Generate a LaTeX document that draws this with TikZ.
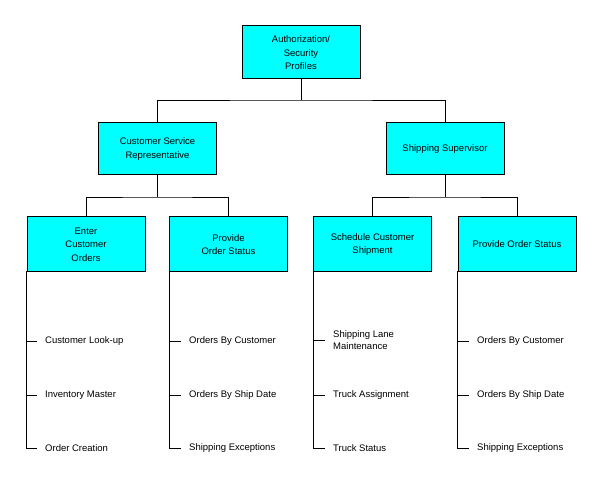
\documentclass[tikz,border=0pt]{standalone}
\usepackage{fontspec}
\setmainfont{Liberation Sans}
\definecolor{boxfill}{RGB}{0,255,255}
% move a label down without changing its reported size
\newcommand{\lowerlabel}[2]{\raisebox{-#1}[\height][\depth]{#2}}
\begin{document}
\begin{tikzpicture}[x=1pt,y=-1pt,
  role/.style={draw=black,fill=boxfill,line width=0.9pt,minimum width=118pt,minimum height=53pt,
    inner sep=0pt,align=center,font=\fontsize{9.5}{13.5}\selectfont},
  task/.style={draw=black,fill=boxfill,line width=0.9pt,minimum width=118pt,minimum height=55pt,
    inner sep=0pt,align=center,font=\fontsize{9.5}{13.5}\selectfont},
  item/.style={anchor=west,inner sep=0pt,align=left,font=\fontsize{9.5}{12}\selectfont},
  wire/.style={draw=black,line width=0.9pt}]
\useasboundingbox (0,0) rectangle (603,502);
\fill[white] (0,0) rectangle (603,502);

% top level
\node[role] (auth) at (301,51.5) {\lowerlabel{1.5pt}{\parbox{110pt}{\centering Authorization/\\Security\\Profiles}}};

% second level
\node[role,minimum height=52pt] (csr) at (157.5,148) {\lowerlabel{1pt}{\parbox{110pt}{\centering Customer Service\\Representative}}};
\node[role,minimum height=52pt] (ship) at (445,148) {\lowerlabel{1pt}{Shipping Supervisor}};

% third level
\node[task] (enter) at (86,243.5) {\lowerlabel{1pt}{\parbox{110pt}{\centering Enter\\Customer\\Orders}}};
\node[task] (prov1) at (228.5,243.5) {\lowerlabel{1pt}{\parbox{110pt}{\centering Provide\\Order Status}}};
\node[task] (sched) at (372.5,243.5) {\lowerlabel{1pt}{\parbox{110pt}{\centering Schedule Customer\\Shipment}}};
\node[task] (prov2) at (517,243.5) {\lowerlabel{1pt}{Provide Order Status}};

% junctions
\coordinate (j1) at (301,100);
\coordinate (j2) at (157.5,197);
\coordinate (j3) at (445,197);

\draw[wire] (auth.south) -- (j1);
\draw[wire] (csr.north) |- (j1) -| (ship.north);
\draw[wire] (csr.south) -- (j2);
\draw[wire] (enter.north) |- (j2) -| (prov1.north);
\draw[wire] (ship.south) -- (j3);
\draw[wire] (sched.north) |- (j3) -| (prov2.north);

% leaf items
\node[item] (e1) at (45,341.5) {Customer Look-up};
\node[item] (e2) at (45,395.5) {Inventory Master};
\node[item] (e3) at (45,448.5) {Order Creation};

\node[item] (p1) at (189,341.5) {Orders By Customer};
\node[item] (p2) at (189,395.5) {Orders By Ship Date};
\node[item] (p3) at (189,448.5) {Shipping Exceptions};

\node[item] (s1) at (333,340) {Shipping Lane\\Maintenance};
\node[item] (s2) at (333,395.5) {Truck Assignment};
\node[item] (s3) at (333,448.5) {Truck Status};

\node[item] (q1) at (477,341.5) {Orders By Customer};
\node[item] (q2) at (477,395.5) {Orders By Ship Date};
\node[item] (q3) at (477,448.5) {Shipping Exceptions};

\foreach \b/\i in {enter/e,prov1/p,sched/s,prov2/q}{
  \draw[wire] (\b.south west) |- ([xshift=-8pt]\i3.west);
  \draw[wire] (\b.south west |- \i1.west) -- ([xshift=-8pt]\i1.west);
  \draw[wire] (\b.south west |- \i2.west) -- ([xshift=-8pt]\i2.west);
}
\end{tikzpicture}
\end{document}
